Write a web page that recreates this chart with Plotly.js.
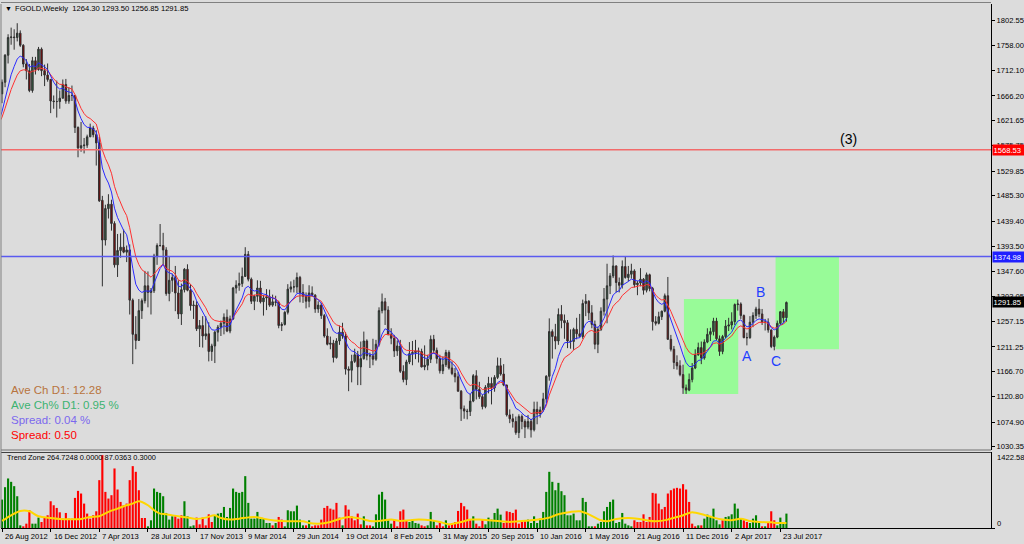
<!DOCTYPE html>
<html><head><meta charset="utf-8">
<script src="https://cdn.plot.ly/plotly-3.0.1.min.js"></script>
<style>html,body{margin:0;padding:0;background:#dcdcdc;overflow:hidden}#chart{width:1024px;height:544px}</style>
</head><body><div id="chart"></div>
<script>
// ---------------- DATA ----------------
const symbol = 'FGOLD,Weekly';
const firstWeek = '2012-05-27';      // first bar in the arrays (13 bars before the visible window, for the averages)
const firstVisible = 13;             // index of 26 Aug 2012
const labelEvery = 16;               // a date label every 16 bars

const opens = [
 1573,1622,1595,1626,1572,1604,1579,1592,1582,1622,1606,1621,1616,
 1670,1691,1740,1772,1773,1772,1780,1758,1724,1712,
 1676,1730,1714,1751,1712,1704,1696,1657,1656,1656,
 1662,1687,1657,1667,1667,1609,1572,1576,1577,1592,
 1608,1596,1581,1477,1405,1462,1470,1435,1360,1386,
 1392,1383,1387,1296,1234,1223,1277,1295,1322,1310,
 1313,1376,1395,1395,1387,1308,1332,1337,1309,1271,
 1315,1352,1314,1286,1287,1244,1250,1231,1235,1203,
 1213,1238,1247,1254,1265,1240,1262,1318,1323,1326,
 1339,1379,1334,1294,1303,1318,1293,1300,1302,1287,
 1293,1292,1250,1252,1274,1316,1320,1320,1337,1310,
 1303,1294,1309,1305,1280,1287,1268,1231,1216,1218,
 1192,1222,1238,1231,1171,1169,1185,1197,1175,1190,
 1222,1195,1195,1189,1216,1277,1293,1278,1234,1227,
 1204,1213,1167,1152,1184,1199,1201,1204,1203,1175,
 1178,1189,1225,1205,1190,1168,1179,1201,1173,1163,
 1157,1131,1099,1095,1094,1113,1159,1134,1121,1103,
 1138,1145,1137,1156,1177,1162,1142,1088,1081,1076,
 1056,1085,1076,1066,1076,1061,1098,1090,1097,1117,
 1158,1239,1230,1222,1270,1259,1255,1222,1221,1243,
 1235,1230,1290,1294,1273,1252,1216,1243,1276,1298,
 1322,1340,1358,1328,1323,1357,1337,1343,1349,1324,
 1327,1334,1314,1342,1317,1257,1254,1266,1276,1304,
 1225,1207,1183,1177,1161,1137,1133,1152,1173,1197,
 1210,1191,1220,1234,1239,1258,1226,1203,1230,1249,
 1251,1257,1288,1289,1268,1228,1228,1256,1268,1280,
 1271,1256,1256,1242,1212,1229,1254,1275,1264.30];
const highs = [
 1632,1642,1628,1630,1605,1625,1600,1597,1624,1628,1625,1624,1677,
 1696,1742,1778,1790,1787,1798,1785,1760,1733,1724,
 1737,1737,1755,1754,1723,1725,1697,1667,1694,1676,
 1696,1697,1682,1685,1668,1611,1619,1590,1596,1616,
 1612,1604,1592,1485,1469,1488,1478,1439,1416,1417,
 1424,1395,1397,1299,1267,1298,1299,1349,1348,1318,
 1380,1399,1434,1418,1392,1376,1344,1358,1332,1326,
 1354,1361,1325,1295,1294,1260,1267,1267,1256,1217,
 1240,1251,1259,1272,1279,1268,1320,1332,1346,1355,
 1392,1385,1337,1306,1332,1331,1305,1316,1315,1306,
 1304,1295,1256,1276,1325,1330,1333,1346,1340,1325,
 1310,1323,1321,1307,1294,1291,1271,1245,1230,1224,
 1227,1250,1255,1238,1176,1197,1208,1204,1221,1239,
 1225,1201,1226,1224,1283,1308,1300,1285,1245,1233,
 1223,1224,1178,1188,1220,1222,1224,1210,1208,1214,
 1197,1232,1233,1210,1197,1194,1206,1205,1185,1173,
 1166,1133,1105,1099,1126,1162,1169,1148,1125,1142,
 1157,1156,1160,1192,1191,1180,1143,1098,1090,1085,
 1089,1089,1080,1088,1081,1112,1112,1103,1128,1160,
 1263,1243,1253,1281,1287,1270,1260,1243,1246,1264,
 1271,1297,1307,1296,1287,1259,1248,1283,1318,1362,
 1345,1377,1359,1337,1368,1375,1358,1362,1352,1331,
 1354,1336,1346,1344,1320,1267,1275,1277,1308,1338,
 1233,1213,1196,1187,1179,1143,1163,1182,1207,1219,
 1221,1225,1245,1246,1264,1264,1232,1233,1260,1264,
 1274,1290,1297,1292,1270,1237,1267,1274,1284,1298,
 1280,1262,1263,1243,1232,1259,1276,1280,1293.50];
const lows = [
 1530,1580,1585,1564,1547,1575,1565,1569,1568,1585,1598,1597,1613,
 1653,1682,1725,1759,1750,1765,1755,1718,1696,1673,
 1672,1705,1712,1702,1684,1692,1635,1643,1627,1643,
 1662,1652,1652,1657,1599,1555,1565,1562,1572,1592,
 1591,1540,1474,1321,1395,1444,1422,1355,1338,1373,
 1381,1365,1270,1180,1207,1222,1262,1290,1283,1270,
 1309,1360,1393,1361,1304,1294,1311,1276,1262,1251,
 1310,1312,1277,1262,1240,1211,1210,1224,1185,1186,
 1182,1221,1231,1234,1238,1236,1260,1308,1313,1320,
 1338,1330,1289,1278,1293,1290,1268,1278,1284,1284,
 1285,1245,1240,1250,1270,1310,1310,1309,1292,1291,
 1281,1283,1302,1273,1273,1262,1228,1214,1207,1183,
 1190,1215,1226,1161,1131,1147,1182,1142,1142,1188,
 1187,1173,1178,1186,1212,1272,1251,1232,1216,1193,
 1195,1164,1147,1142,1180,1178,1189,1183,1174,1169,
 1169,1182,1200,1181,1163,1162,1175,1170,1160,1147,
 1130,1077,1081,1080,1086,1111,1116,1117,1098,1100,
 1127,1107,1130,1153,1159,1140,1085,1073,1065,1052,
 1046,1062,1046,1062,1047,1058,1071,1083,1094,1110,
 1150,1190,1207,1215,1245,1226,1209,1208,1206,1225,
 1228,1226,1267,1260,1245,1207,1200,1240,1268,1254,
 1307,1336,1310,1310,1317,1335,1330,1335,1319,1305,
 1321,1306,1310,1312,1241,1250,1252,1260,1274,1224,
 1203,1171,1170,1158,1126,1126,1131,1147,1171,1195,
 1180,1188,1218,1222,1232,1223,1195,1198,1227,1240,
 1243,1251,1277,1262,1227,1214,1226,1247,1262,1265,
 1251,1241,1237,1209,1205,1227,1251,1255,1256.85];
const closes = [
 1622,1595,1626,1572,1604,1579,1592,1582,1622,1606,1621,1616,1670,
 1691,1740,1772,1773,1772,1780,1758,1724,1712,1676,
 1730,1714,1751,1712,1704,1696,1657,1656,1656,1662,
 1687,1657,1667,1667,1609,1572,1576,1577,1592,1608,
 1596,1581,1476,1405,1462,1470,1435,1360,1386,1392,
 1383,1387,1296,1234,1223,1277,1295,1322,1310,1313,
 1376,1395,1395,1387,1308,1332,1337,1309,1271,1315,
 1352,1314,1286,1287,1244,1250,1231,1235,1203,1213,
 1238,1247,1254,1265,1240,1262,1318,1323,1326,1339,
 1379,1334,1294,1303,1318,1293,1300,1302,1287,1293,
 1292,1250,1252,1274,1316,1320,1320,1337,1310,1303,
 1294,1309,1305,1280,1287,1268,1231,1216,1218,1192,
 1222,1238,1231,1171,1169,1185,1197,1175,1190,1222,
 1195,1195,1189,1216,1277,1293,1278,1234,1227,1204,
 1213,1167,1152,1184,1199,1201,1204,1203,1175,1178,
 1189,1225,1205,1190,1168,1179,1201,1173,1163,1157,
 1131,1099,1095,1094,1113,1159,1134,1121,1103,1138,
 1145,1137,1156,1177,1162,1142,1088,1081,1076,1056,
 1085,1076,1066,1076,1061,1098,1090,1097,1117,1158,
 1239,1230,1222,1270,1259,1255,1222,1221,1243,1235,
 1230,1290,1294,1273,1252,1216,1243,1276,1298,1322,
 1340,1358,1328,1323,1357,1337,1343,1349,1324,1327,
 1334,1314,1342,1317,1257,1254,1266,1276,1304,1225,
 1207,1183,1177,1161,1137,1133,1152,1173,1197,1210,
 1191,1220,1234,1239,1258,1226,1203,1230,1249,1251,
 1257,1288,1289,1268,1228,1228,1256,1268,1280,1271,
 1256,1256,1242,1212,1229,1254,1275,1264,1291.85];

// "Trend Zone" histogram, one value per visible bar (from 26 Aug 2012)
const trendZone = [
 525,754,915,853,773,587,49,31,80,328,
 80,80,192,111,192,235,494,420,371,290,
 173,278,173,173,556,686,637,451,266,173,
 235,309,884,1347,667,544,606,1100,711,482,
 420,451,884,1143,1038,698,185,185,31,142,
 729,667,649,587,278,155,216,216,173,235,
 494,216,31,49,192,68,192,49,253,111,
 235,266,278,389,204,371,729,667,649,667,
 958,464,173,173,297,167,173,93,93,49,
 93,204,155,31,328,309,309,414,155,49,
 49,142,31,49,49,155,371,408,358,340,
 464,192,49,420,340,216,142,266,68,216,
 49,49,31,253,618,667,525,142,80,155,
 31,309,340,142,111,142,93,80,49,31,
 49,297,124,49,111,31,142,49,93,111,
 315,464,402,340,142,216,80,31,142,68,
 192,155,278,358,247,93,309,297,278,340,
 80,111,124,155,93,216,93,173,297,667,
 1038,853,698,834,680,606,235,235,266,142,
 142,556,482,31,31,31,80,111,309,389,
 482,525,93,111,278,80,49,31,142,111,
 111,253,111,204,649,637,451,346,389,637,
 698,729,742,729,810,711,482,80,31,49,
 49,173,247,216,358,142,68,142,204,216,
 253,451,358,173,142,111,93,173,235,93,
 31,31,111,309,142,49,192,80,266];
// g = green bar, r = red bar, 10 bars per group
const trendDir = [
 'gggggggrrr','gggrrrrrrr','rrrrrrrrrr','rrrrrrrrrr','rrrrrrrrgg',
 'gggggggrrr','ggggrrrrrr','gggggggggg','gggggggggr','grrggggggg',
 'rgrrrrrrrr','rrgrrrrrrg','rrgggggggr','rrrrggggrr','gggrrrgrrr',
 'rrrrrgrrrg','gggggrrrrr','rrrggggggg','gggggggggg','gggggrgggg',
 'ggggggggrr','rrrrrrrrrr','rrrrrrrrrg','rggggggrgg','ggggrrgggg',
 'rgrrrgggg'].join('').split('');

// smoothed line of the histogram, read at these bar numbers
const trendAvgBar = [0,3,6,9,12,16,19,22,26,29,32,35,38,41,43,45,48,50,52,54,58,61,64,67,70,72,75,78,83,86,89,92,96,99,101,104,108,111,114,118,121,124,128,131,134,137,141,144,147,151,154,157,160,164,167,170,174,177,180,183,187,190,193,197,199,202,206,209,212,215,219,220,223,226,227,231,234,237,240,243,246,249,253,255,258];
const trendAvg    = [130,235,315,309,216,185,167,161,167,204,216,297,358,420,451,494,420,328,266,253,216,192,167,192,235,185,155,173,204,173,142,130,124,124,93,80,111,167,204,173,130,130,155,130,142,155,142,111,68,111,155,155,142,124,111,124,142,161,192,253,297,309,253,142,124,167,185,173,142,124,155,173,216,278,290,241,192,155,142,173,130,111,105,93,93];

const levels = [1568.53, 1374.98];
const levelColors = ['#f26a6a', '#5a5af0'];
const priceTicks = [1802.55,1758.00,1712.10,1666.20,1621.65,1575.75,1529.85,1485.30,1439.40,1393.50,1347.60,1303.05,1257.15,1211.25,1166.70,1120.80,1074.90,1030.35];
const trendZoneMax = 1422.5825;
const infoLines = ['Ave Ch D1: 12.28', 'Ave Ch% D1: 0.95 %', 'Spread: 0.04 %', 'Spread: 0.50'];
const infoColors = ['#b8743e', '#3cb371', '#7b68ee', '#ff0000'];
const trendZoneHeader = 'Trend Zone 264.7248 0.0000 87.0363 0.3000';

// ---------------- BUILD ----------------
function weekDate(k){const d=new Date(firstWeek+'T00:00:00Z');d.setUTCDate(d.getUTCDate()+7*k);return d.toISOString().slice(0,10);}
const dates = closes.map((_,k)=>weekDate(k));
const visDates = dates.slice(firstVisible);
const MON = ['Jan','Feb','Mar','Apr','May','Jun','Jul','Aug','Sep','Oct','Nov','Dec'];
const labelDates = visDates.filter((_,i)=>i%labelEvery===0);
const labelText = labelDates.map(d=>{const [y,m,dd]=d.split('-');return (+dd)+' '+MON[+m-1]+' '+y;});
function ema(v,n){const k=2/(n+1);const o=[v[0]];for(let i=1;i<v.length;i++)o.push(v[i]*k+o[i-1]*(1-k));return o;}
const emaFast = ema(closes,8), emaSlow = ema(closes,13);

const FONT = 'Liberation Sans, Arial, sans-serif';
const PW=990, PH=524, ML=1, MT=4;
const px = x => (x-ML)/PW, py = y => (MT+PH-y)/PH;
const n = closes.length;
const fmt = v => v.toFixed(2);

const traces = [
 {type:'candlestick', x:dates, open:opens, high:highs, low:lows, close:closes, xaxis:'x', yaxis:'y',
  increasing:{line:{color:'#303030',width:1}, fillcolor:'#2f6142'},
  decreasing:{line:{color:'#303030',width:1}, fillcolor:'#8b0000'},
  whiskerwidth:0, hoverinfo:'skip', showlegend:false},
 {type:'scatter', mode:'lines', x:dates, y:emaSlow, xaxis:'x', yaxis:'y', line:{color:'#ff3030',width:1}, hoverinfo:'skip', showlegend:false},
 {type:'scatter', mode:'lines', x:dates, y:emaFast, xaxis:'x', yaxis:'y', line:{color:'#2a2aff',width:1}, hoverinfo:'skip', showlegend:false},
 {type:'bar', x:visDates, y:trendZone, xaxis:'x', yaxis:'y2',
  marker:{color:trendDir.map(c=>c==='g'?'#008000':'#ff0000'), line:{width:0}}, hoverinfo:'skip', showlegend:false},
 {type:'scatter', mode:'lines', x:trendAvgBar.map(i=>visDates[i]), y:trendAvg, xaxis:'x', yaxis:'y2',
  line:{color:'#ffd700',width:2,shape:'spline',smoothing:0.8}, hoverinfo:'skip', showlegend:false}
];

const shapes = [
 {type:'rect', xref:'x', yref:'y', x0:'2016-12-13', x1:'2017-04-17', y0:1126, y1:1298, fillcolor:'#98fb98', line:{width:0}, layer:'below'},
 {type:'rect', xref:'x', yref:'y', x0:'2017-07-12', x1:'2017-12-05', y0:1207, y1:1374.98, fillcolor:'#98fb98', line:{width:0}, layer:'below'},
 ...levels.map((v,i)=>({type:'line', xref:'paper', yref:'y', x0:0, x1:1, y0:v, y1:v, line:{color:levelColors[i], width:1.5}})),
 {type:'line', xref:'paper', yref:'paper', x0:0, x1:1, y0:py(450), y1:py(450), line:{color:'#707070', width:1.2}},
 {type:'line', xref:'paper', yref:'paper', x0:0, x1:1, y0:py(452.5), y1:py(452.5), line:{color:'#404040', width:1.2}},
 {type:'line', xref:'paper', yref:'paper', x0:0, x1:0, y0:0, y1:1, line:{color:'#808080', width:1}},
 {type:'line', xref:'paper', yref:'paper', x0:0, x1:1, y0:py(2.5), y1:py(2.5), line:{color:'#808080', width:1}}
];

const ann = [];
const T = (text,x,y,size,color,extra) => ann.push(Object.assign({text, x:px(x), y:py(y), xref:'paper', yref:'paper', xanchor:'left', yanchor:'middle', showarrow:false, font:{family:FONT,size,color}}, extra||{}));
T('▼', 3, 8, 7, '#000');
T(symbol+'  '+[opens[n-1],highs[n-1],lows[n-1],closes[n-1]].map(fmt).join(' '), 13, 8, 7.6, '#000');
T(trendZoneHeader, 5, 457, 7.4, '#000');
infoLines.forEach((t,i)=>T(t, 9, [389.5,404.5,420,434.5][i], 11.5, infoColors[i]));
// date labels under the lower panel, starting at their tick
labelDates.forEach((d,i)=>ann.push({text:labelText[i], x:d, xref:'x', y:py(536), yref:'paper', xanchor:'left', yanchor:'middle', xshift:1, showarrow:false, font:{family:FONT,size:7.6,color:'#000'}}));
// wave labels
const L = (text,x,y,size,color)=>ann.push({text, x, y, xref:'x', yref:'y', showarrow:false, font:{family:FONT,size,color}});
L('A','2017-05-08',1194.8,14,'#1f3fff');
L('B','2017-06-08',1311.3,14,'#1f3fff');
L('C','2017-07-12',1186.3,14,'#1f3fff');
L('(3)','2017-12-26',1588,14,'#000');
// right-side price boxes
const box = (v,bg)=>ann.push({text:fmt(v), x:1, xref:'paper', xanchor:'left', xshift:1, y:v, yref:'y', yanchor:'middle', showarrow:false, bgcolor:bg, borderpad:0.5, width:31, align:'left', font:{family:FONT,size:7.6,color:'#fff'}});
box(levels[0], '#ff0000');
box(levels[1], '#2020ff');
box(closes[n-1], '#000');
T(String(trendZoneMax), 995, 457, 7.6, '#000');
T('0', 995, 523, 7.6, '#000');

const layout = {
 width:1024, height:544, margin:{l:ML, r:1024-ML-PW, t:MT, b:544-MT-PH, pad:0},
 paper_bgcolor:'#dcdcdc', plot_bgcolor:'#dcdcdc', showlegend:false, bargap:0.3, hovermode:false,
 xaxis:{type:'date', anchor:'y2', domain:[0,1], range:['2012-08-23 16:00','2018-11-20'],
   rangeslider:{visible:false}, showgrid:false, zeroline:false, showline:true, linecolor:'#000', linewidth:1,
   ticks:'outside', ticklen:3, tickcolor:'#000', tickmode:'array', tickvals:labelDates, showticklabels:false},
 yaxis:{domain:[py(450),1], range:[1024.37,1832.82], side:'right', showgrid:false, zeroline:false,
   showline:true, linecolor:'#000', linewidth:1, ticks:'outside', ticklen:3, tickcolor:'#000',
   tickmode:'array', tickvals:priceTicks, ticktext:priceTicks.map(fmt), tickfont:{family:FONT,size:7.6,color:'#000'}},
 yaxis2:{domain:[0,py(452)], range:[0,1404], side:'right', showgrid:false, zeroline:false,
   showline:true, linecolor:'#000', linewidth:1, ticks:'outside', ticklen:3, tickcolor:'#000',
   tickmode:'array', tickvals:[0], ticktext:[''], showticklabels:true},
 shapes, annotations:ann
};
Plotly.newPlot('chart', traces, layout, {staticPlot:true, displayModeBar:false});
</script></body></html>
